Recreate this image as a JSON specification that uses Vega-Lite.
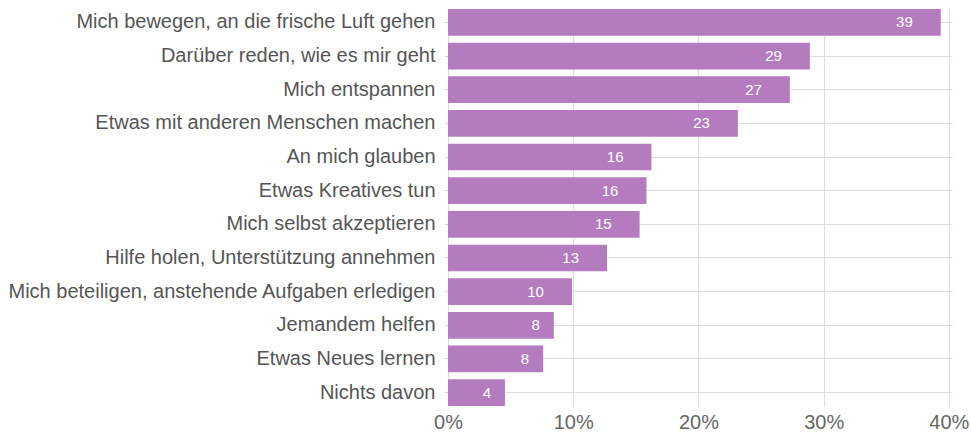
{
  "$schema": "https://vega.github.io/schema/vega-lite/v6.json",
  "width": 504,
  "height": 397,
  "autosize": {"type": "none"},
  "padding": {"left": 448, "top": 9, "right": 19, "bottom": 27},
  "background": "white",
  "data": {
    "values": [
      {"item": "Mich bewegen, an die frische Luft gehen", "value": 39.35, "label": 39},
      {"item": "Darüber reden, wie es mir geht", "value": 28.9, "label": 29},
      {"item": "Mich entspannen", "value": 27.3, "label": 27},
      {"item": "Etwas mit anderen Menschen machen", "value": 23.15, "label": 23},
      {"item": "An mich glauben", "value": 16.25, "label": 16},
      {"item": "Etwas Kreatives tun", "value": 15.85, "label": 16},
      {"item": "Mich selbst akzeptieren", "value": 15.3, "label": 15},
      {"item": "Hilfe holen, Unterstützung annehmen", "value": 12.7, "label": 13},
      {"item": "Mich beteiligen, anstehende Aufgaben erledigen", "value": 9.9, "label": 10},
      {"item": "Jemandem helfen", "value": 8.45, "label": 8},
      {"item": "Etwas Neues lernen", "value": 7.6, "label": 8},
      {"item": "Nichts davon", "value": 4.55, "label": 4}
    ]
  },
  "config": {
    "view": {"stroke": null},
    "font": "Liberation Sans"
  },
  "encoding": {
    "y": {
      "field": "item",
      "type": "nominal",
      "sort": null,
      "scale": {"paddingInner": 0.206, "paddingOuter": 0},
      "axis": {
        "title": null,
        "domain": false,
        "grid": true,
        "gridColor": "#dddddd",
        "gridWidth": 1,
        "ticks": true,
        "tickSize": 3,
        "tickColor": "#cccccc",
        "labelPadding": 10,
        "labelFontSize": 20,
        "labelColor": "#555555",
        "labelLimit": 600
      }
    },
    "x": {
      "field": "value",
      "type": "quantitative",
      "scale": {"domain": [0, 40.25], "nice": false},
      "axis": {
        "title": null,
        "values": [0, 10, 20, 30, 40],
        "labelExpr": "datum.value + '%'",
        "domain": false,
        "ticks": false,
        "grid": true,
        "gridColor": "#dddddd",
        "gridWidth": 1,
        "labelPadding": 6,
        "labelFontSize": 20,
        "labelColor": "#666666",
        "labelFlush": false
      }
    }
  },
  "layer": [
    {"mark": {"type": "bar", "color": "#b47cbf"}},
    {
      "mark": {
        "type": "text",
        "align": "right",
        "baseline": "middle",
        "color": "white",
        "fontSize": 15,
        "dx": {"expr": "datum.label >= 10 ? -28 : -14"}
      },
      "encoding": {"text": {"field": "label", "type": "quantitative"}}
    }
  ]
}
